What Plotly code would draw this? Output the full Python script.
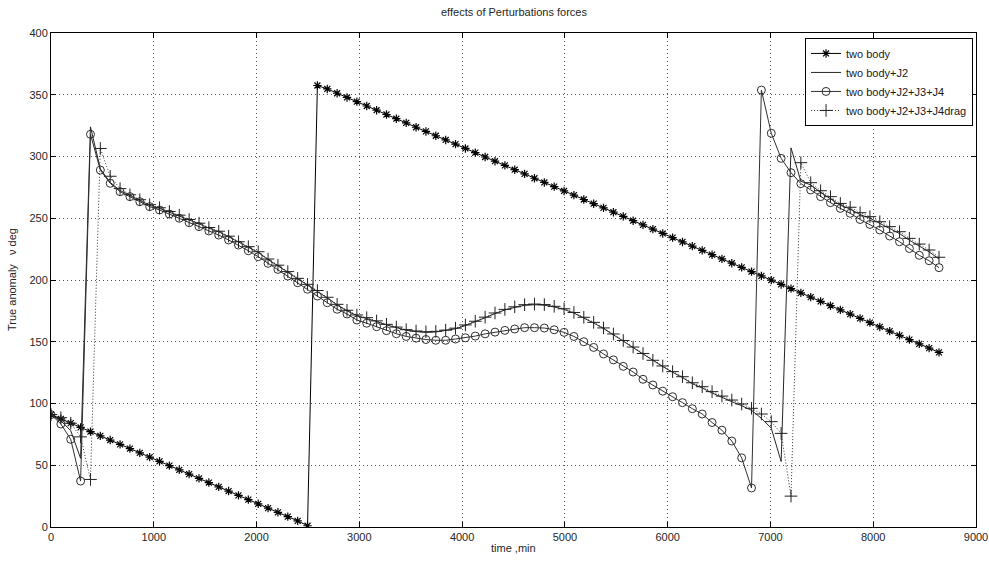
import plotly.graph_objects as go

# time grid (min)
time_min = list(range(0, 8641, 96))

two_body = [91.0, 87.6, 84.1, 80.7, 77.2, 73.8, 70.4, 66.9, 63.5, 60.0,
            56.6, 53.2, 49.7, 46.3, 42.8, 39.4, 36.0, 32.5, 29.1, 25.6,
            22.2, 18.8, 15.3, 11.9, 8.4, 5.0, 1.0, 357.5, 354.7, 351.2,
            347.8, 344.4, 340.9, 337.5, 334.0, 330.6, 327.2, 323.7, 320.3, 316.8,
            313.4, 310.0, 306.5, 303.1, 299.6, 296.2, 292.8, 289.3, 285.9, 282.4,
            279.0, 275.6, 272.1, 268.7, 265.2, 261.8, 258.4, 254.9, 251.5, 248.0,
            244.6, 241.2, 237.7, 234.3, 230.8, 227.4, 224.0, 220.5, 217.1, 213.6,
            210.2, 206.8, 203.3, 199.9, 196.4, 193.0, 189.6, 186.1, 182.7, 179.2,
            175.8, 172.4, 168.9, 165.5, 162.0, 158.6, 155.2, 151.7, 148.3, 144.8,
            141.4]

j2 = [91, 86, 78, 55.6, 324, 290, 279, 272.5, 268.5, 264.5,
      260.5, 258, 255, 252, 248.5, 245.5, 242, 239, 235, 230.5,
      226.5, 222.4, 216.5, 211.5, 206.3, 200.8, 196, 191, 185.5, 179.8,
      175, 171.2, 169, 166.4, 163.6, 161.4, 159.3, 158.2, 157.6, 157.9,
      158.9, 160.5, 163.1, 166.1, 169.4, 172.8, 175.7, 177.8, 179.5, 180,
      179.6, 178.2, 176.2, 173.2, 169.3, 165.2, 160.7, 155.8, 150.5, 145.2,
      140, 134.5, 129.9, 125.3, 121, 116, 112.6, 108.5, 104.8, 101.5,
      98.2, 94.5, 88, 80, 53, 307, 280, 277, 271, 266,
      260.5, 257.5, 253, 250, 245.7, 241.7, 237.6, 232.2, 227.6, 222.8,
      217]

j234 = [91, 83.4, 71, 37.2, 318, 289, 278.3, 271.5, 267.5, 263.4,
        259.4, 256.7, 253.4, 250, 246.4, 243.2, 239.7, 236.4, 232.4, 228.3,
        223.7, 218.9, 213.5, 208.6, 203.2, 197.8, 192.5, 187, 181.6, 176.3,
        172.5, 167.6, 165, 162.2, 159, 156.5, 154.3, 152.9, 151.8, 151.2,
        151.2, 152.2, 153.2, 154.6, 156.4, 157.8, 159.2, 160.3, 161.4, 161.4,
        161.1, 159.7, 157.6, 154.3, 150, 145.4, 140.1, 135.3, 130.1, 125.5,
        119.6, 115, 110, 105.5, 100.7, 95.8, 91.5, 84.6, 78.4, 69.6,
        56, 31.6, 353.8, 318.8, 298.5, 286.9, 278, 272.9, 267.5, 262.6,
        258, 254, 249, 245, 240.5, 235.6, 231, 225.5, 220, 215.6,
        210]

j234_drag = [91, 88.5, 84, 73, 38.5, 306.5, 284, 274, 269, 265,
             261, 258.5, 255.5, 252.5, 249, 246, 242.5, 239.5, 235.5, 231,
             227, 222.9, 217, 212, 206.8, 201.3, 196.5, 191.5, 186, 180.3,
             175.5, 171.7, 169.5, 166.9, 164.1, 161.9, 159.8, 158.7, 158.1, 158.4,
             159.4, 161, 163.6, 166.6, 169.9, 173.3, 176.2, 178.3, 180, 180.5,
             180.1, 178.7, 176.7, 173.7, 169.8, 165.7, 161.2, 156.3, 151, 145.7,
             140.5, 135, 130.4, 125.8, 121.7, 116.8, 113.6, 109.6, 106, 102.8,
             99.6, 96.1, 91.5, 85.3, 75.8, 25, 295, 278.8, 272.3, 267.5,
             262, 258.9, 254.5, 251.3, 247.2, 243.2, 239.1, 233.7, 229.1, 224.3,
             218.4]

series_names = ["two body", "two body+J2", "two body+J2+J3+J4", "two body+J2+J3+J4drag"]

FONT = "Liberation Sans, Arial, Helvetica, sans-serif"

fig = go.Figure()
fig.add_trace(go.Scatter(
    x=time_min, y=two_body, name=series_names[0], mode="lines+markers",
    line=dict(color="#000000", width=1),
    marker=dict(symbol="asterisk-open", size=7, line=dict(color="#000000", width=1.2))))
fig.add_trace(go.Scatter(
    x=time_min, y=j2, name=series_names[1], mode="lines",
    line=dict(color="#262626", width=1)))
fig.add_trace(go.Scatter(
    x=time_min, y=j234, name=series_names[2], mode="lines+markers",
    line=dict(color="#303030", width=1),
    marker=dict(symbol="circle-open", size=8, color="#303030", line=dict(color="#303030", width=1))))
fig.add_trace(go.Scatter(
    x=time_min, y=j234_drag, name=series_names[3], mode="lines+markers",
    line=dict(color="#303030", width=1, dash="1px,2px"),
    marker=dict(symbol="cross-thin-open", size=9, color="#202020", line=dict(color="#202020", width=1))))

axis_common = dict(
    showline=True, linecolor="#000000", linewidth=1, mirror="ticks",
    ticks="inside", ticklen=5, tickcolor="#000000",
    showgrid=True, gridcolor="#555555", griddash="1px,3px", gridwidth=1,
    zeroline=False, automargin=False, ticklabeloverflow="allow",
    tickfont=dict(family=FONT, size=11, color="#262626"),
)

fig.update_xaxes(range=[0, 9000], dtick=1000, tick0=0, **axis_common)
fig.update_yaxes(range=[0, 400], dtick=50, tick0=0, **axis_common)

fig.update_layout(
    width=989, height=561,
    margin=dict(l=51, r=13, t=33, b=34),
    paper_bgcolor="white", plot_bgcolor="white",
    font=dict(family=FONT, size=11, color="#262626"),
    showlegend=True,
    legend=dict(
        x=0.9968, y=0.99, xanchor="right", yanchor="top",
        bgcolor="white", bordercolor="#000000", borderwidth=1,
        font=dict(family=FONT, size=11, color="#1a1a1a"),
        tracegroupgap=0, itemwidth=30,
    ),
    annotations=[
        dict(text="effects of Perturbations forces", xref="paper", yref="paper",
             x=0.5, y=1, yshift=21, xanchor="center", yanchor="middle",
             showarrow=False, font=dict(family=FONT, size=11, color="#262626")),
        dict(text="time ,min", xref="paper", yref="paper",
             x=0.5, y=0, yshift=-21, xanchor="center", yanchor="middle",
             showarrow=False, font=dict(family=FONT, size=11, color="#262626")),
        dict(text="True anomaly   \u03bd deg", xref="paper", yref="paper",
             x=0, xshift=-39, y=0.5, xanchor="center", yanchor="middle",
             textangle=-90, showarrow=False,
             font=dict(family=FONT, size=11, color="#262626")),
    ],
)

# remove the default 8px page margin so the figure sits at the window's corner
fig.write_html("out.html", config={"displayModeBar": False},
               post_script="document.body.style.margin='0';")
